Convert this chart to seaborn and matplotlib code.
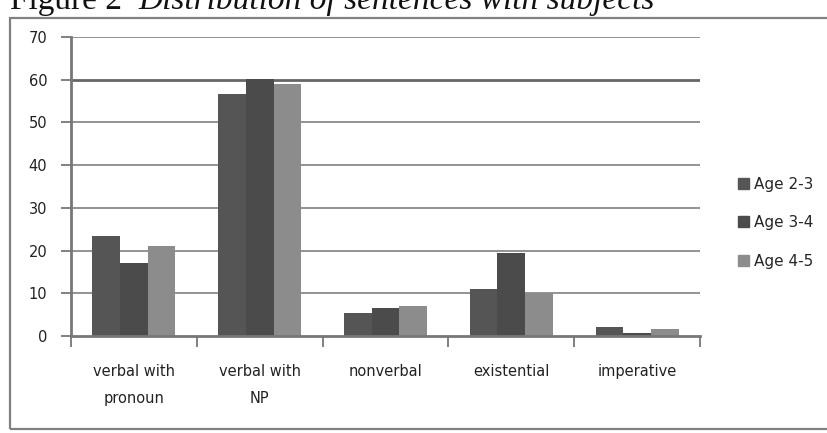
import pandas as pd
import numpy as np
import matplotlib
matplotlib.use("Agg")
import matplotlib.pyplot as plt
import seaborn as sns
from matplotlib.patches import Rectangle

# data
categories = ["verbal with\npronoun", "verbal with\nNP", "nonverbal", "existential", "imperative"]
groups = ["Age 2-3", "Age 3-4", "Age 4-5"]
age_2_3 = [23.5, 56.6, 5.3, 10.9, 2.2]
age_3_4 = [17.2, 60.2, 6.6, 19.4, 0.8]
age_4_5 = [21.1, 59.1, 7.1, 10.1, 1.6]
colors = ["#555555", "#4b4b4b", "#8c8c8c"]

df = pd.DataFrame({
    "category": categories * 3,
    "group": np.repeat(groups, len(categories)),
    "value": age_2_3 + age_3_4 + age_4_5,
})

sns.set_theme(style="white")
plt.rcParams["font.family"] = ["DejaVu Sans"]

fig = plt.figure(figsize=(8.27, 4.33), dpi=100)
ax = fig.add_axes([0.0859, 0.224, 0.7605, 0.6905])

sns.barplot(data=df, x="category", y="value", hue="group", order=categories,
            hue_order=groups, palette=colors, width=0.66, saturation=1,
            edgecolor="none", ax=ax, legend=False)

ax.set_xlim(-0.5, len(categories) - 0.5)
ax.set_ylim(0, 70)
ax.set_yticks(range(0, 71, 10))
ax.set_xlabel("")
ax.set_ylabel("")

# gridlines (the 60 line is drawn heavier in the original)
for v in range(10, 71, 10):
    lw, c = (2.0, "#666666") if v == 60 else (1.3, "#8a8a8a")
    ax.axhline(v, color=c, lw=lw, zorder=0)

for side in ["top", "right"]:
    ax.spines[side].set_visible(False)
for side in ["left", "bottom"]:
    ax.spines[side].set_color("#777777")
    ax.spines[side].set_linewidth(2)

ax.tick_params(axis="y", length=7, width=1.3, color="#777777", pad=10,
               labelsize=10.5, labelcolor="#222222", left=True)
ax.set_xticks(np.arange(-0.5, len(categories), 1.0), minor=True)
ax.tick_params(axis="x", which="minor", length=8, width=1.3, color="#777777", bottom=True)
ax.tick_params(axis="x", which="major", length=0, pad=20, labelsize=10.5, labelcolor="#222222")
for lab in ax.get_xticklabels():
    lab.set_linespacing(2.05)
    lab.set_verticalalignment("top")

# legend
handles = [Rectangle((0, 0), 1, 1, color=c) for c in colors]
fig.legend(handles, groups, loc="upper left", bbox_to_anchor=(0.883, 0.61),
           frameon=False, fontsize=11, handlelength=0.7, handleheight=0.7,
           handletextpad=0.35, labelspacing=1.55, borderpad=0)

# outer chart frame and cropped caption
fig.add_artist(Rectangle((10 / 827, 1 - 429 / 433), 2, (429 - 18) / 433,
                         transform=fig.transFigure, fill=False,
                         edgecolor="#808080", lw=1.6))
fig.text(10 / 827, 1 - 9 / 433, "Figure 2", family="Liberation Serif",
         fontsize=24, color="#111111", va="baseline", ha="left")
fig.text(138 / 827, 1 - 9 / 433, "Distribution of sentences with subjects",
         family="Liberation Serif", style="italic", fontsize=24,
         color="#111111", va="baseline", ha="left")

fig.savefig("out.png", dpi=100)
